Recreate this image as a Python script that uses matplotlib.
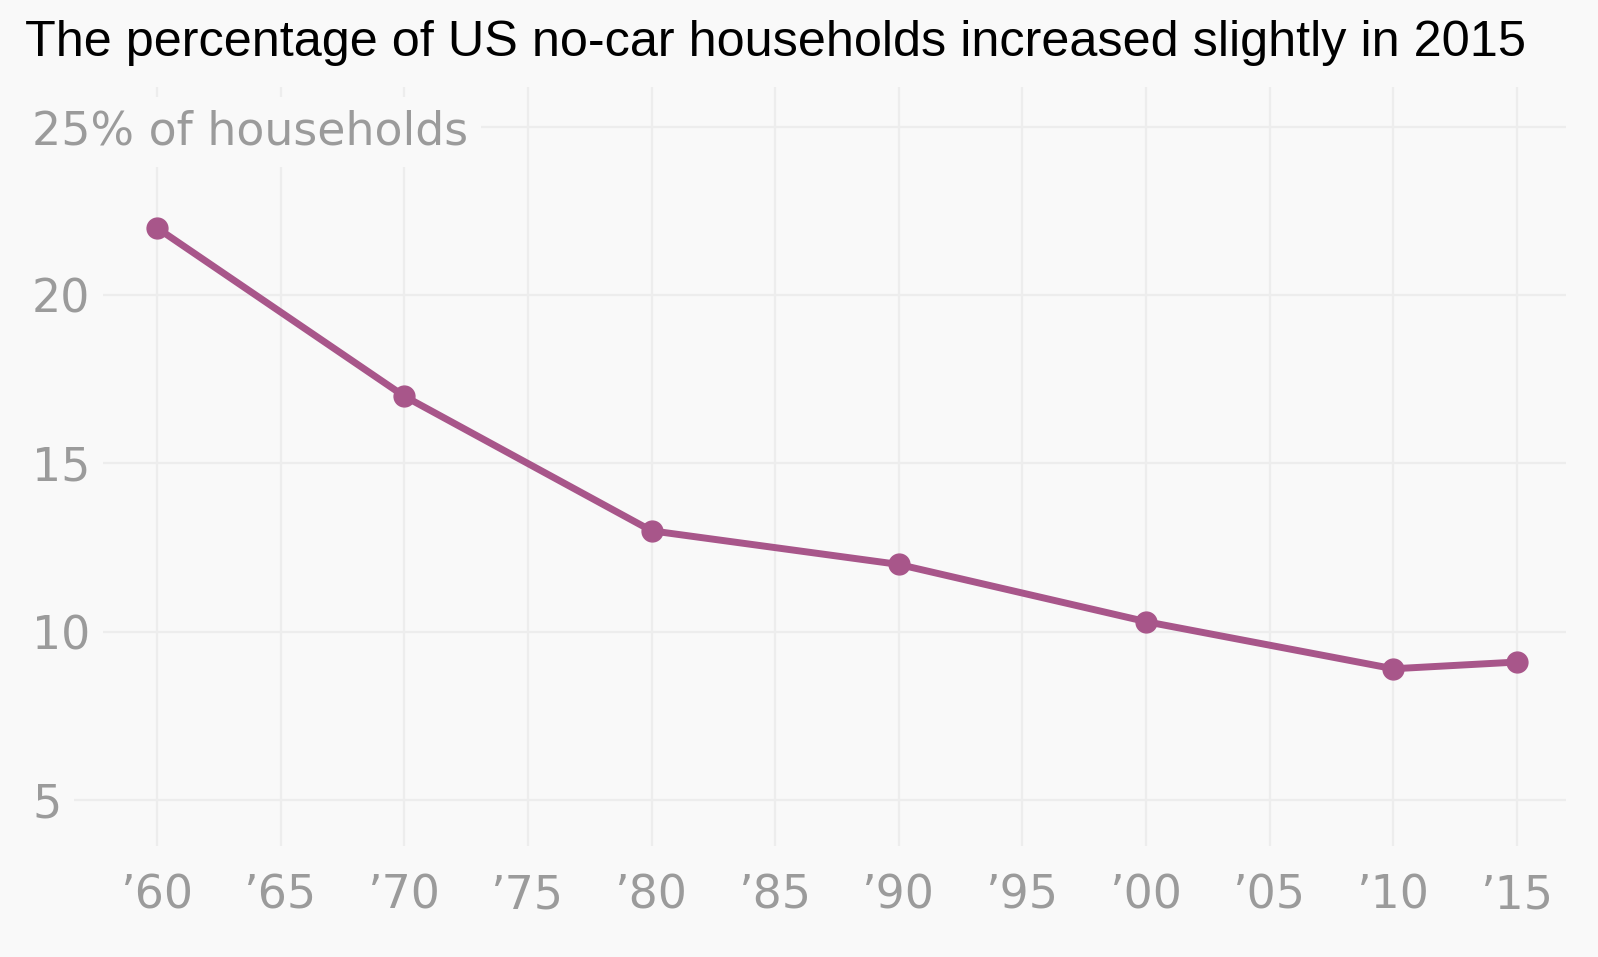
import matplotlib
matplotlib.use("Agg")
import matplotlib.pyplot as plt

years = [1960, 1970, 1980, 1990, 2000, 2010, 2015]
pct = [22.0, 17.0, 13.0, 12.0, 10.3, 8.9, 9.1]
xticks = list(range(1960, 2016, 5))
xtick_labels = ["\u2019" + str(y)[2:] for y in xticks]
yticks = [5, 10, 15, 20, 25]
ytick_labels = ["5", "10", "15", "20", "25% of households"]
title = "The percentage of US no-car households increased slightly in 2015"

BG = "#f9f9f9"
GRID = "#ededed"
TXT = "#9b9b9b"
LINE = "#a8568a"
TFONT = "Liberation Sans"
LFONT = "DejaVu Sans"

W, H = 1598, 957
fig = plt.figure(figsize=(W / 100, H / 100), dpi=100, facecolor=BG)
# axes in pixels: left 32, right 1566, top 87, bottom 846
ax = fig.add_axes([32 / W, 1 - 846 / H, (1566 - 32) / W, (846 - 87) / H])
ax.set_facecolor(BG)
for s in ax.spines.values():
    s.set_visible(False)

ppy = (1517 - 157) / 55.0
ax.set_xlim(1960 - (157 - 32) / ppy, 2015 + (1566 - 1517) / ppy)
ppu = (800 - 127) / 20.0
ax.set_ylim(5 - (846 - 800) / ppu, 25 + (127 - 87) / ppu)

for x in xticks:
    ax.axvline(x, color=GRID, lw=1.6, zorder=0)
for y in yticks:
    ax.axhline(y, color=GRID, lw=1.6, zorder=0)

ax.set_xticks(xticks)
ax.set_xticklabels(xtick_labels, fontsize=33, color=TXT, family=LFONT)
ax.tick_params(axis="x", length=0, pad=20)
ax.set_yticks([])

for y, lab in zip(yticks, ytick_labels):
    ax.text(0.0, y, lab, transform=ax.get_yaxis_transform(), ha="left", va="center_baseline",
            fontsize=33, color=TXT, family=LFONT, zorder=3,
            bbox=dict(boxstyle="square,pad=0.28", fc=BG, ec="none"))

ax.plot(years, pct, color=LINE, lw=5, marker="o", ms=15, zorder=4, solid_capstyle="round")

fig.text(25 / W, 1 - 43 / H, title, ha="left", va="center", fontsize=36.3, color="#000000", family=TFONT)

fig.savefig("out.png", dpi=100, facecolor=BG)
